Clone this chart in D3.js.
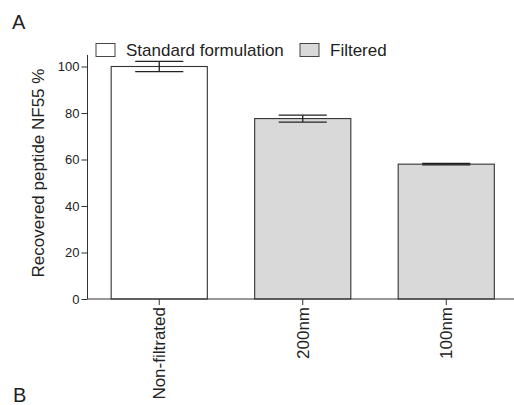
<!DOCTYPE html>
<html>
<head>
<style>
  body { margin: 0; background: #fff; }
  svg { font-family: "Liberation Sans", Arial, sans-serif; }
  .axis path, .axis line { stroke: #333; }
  .axis text { fill: #222; }
</style>
</head>
<body>
<svg width="514" height="405"></svg>
<script src="https://d3js.org/d3.v7.min.js"></script>
<script>
const categories = ["Non-filtrated", "200nm", "100nm"];
const values = [100, 77.6, 58.0];
const errors = [2.2, 1.5, 0.3];
const groups = ["Standard formulation", "Filtered", "Filtered"];
const legendLabels = ["Standard formulation", "Filtered"];
const yTicks = [0, 20, 40, 60, 80, 100];

const colors = { "Standard formulation": "#ffffff", "Filtered": "#d9d9d9" };
const data = categories.map((c, i) => ({ cat: c, v: values[i], e: errors[i], g: groups[i] }));

const svg = d3.select("svg");
const x0 = 87.5, y0 = 299;

const x = d3.scaleBand().domain(categories).range([x0, 518]).paddingInner(0.33).paddingOuter(0.165);
const y = d3.scaleLinear().domain([0, 100]).range([y0, 66.5]);

// bars
svg.selectAll("rect.bar").data(data).enter().append("rect")
  .attr("class", "bar")
  .attr("x", d => x(d.cat))
  .attr("y", d => y(d.v))
  .attr("width", x.bandwidth())
  .attr("height", d => y(0) - y(d.v))
  .attr("fill", d => colors[d.g])
  .attr("stroke", "#333")
  .attr("stroke-width", 1.1);

// error bars
const cap = x.bandwidth() / 4;
const eb = svg.selectAll("g.err").data(data).enter().append("g").attr("class", "err")
  .attr("stroke", "#222").attr("stroke-width", 1.3);
eb.append("line")
  .attr("x1", d => x(d.cat) + x.bandwidth() / 2).attr("x2", d => x(d.cat) + x.bandwidth() / 2)
  .attr("y1", d => y(d.v + d.e)).attr("y2", d => y(d.v - d.e));
eb.append("line")
  .attr("x1", d => x(d.cat) + x.bandwidth() / 2 - cap).attr("x2", d => x(d.cat) + x.bandwidth() / 2 + cap)
  .attr("y1", d => y(d.v + d.e)).attr("y2", d => y(d.v + d.e));
eb.append("line")
  .attr("x1", d => x(d.cat) + x.bandwidth() / 2 - cap).attr("x2", d => x(d.cat) + x.bandwidth() / 2 + cap)
  .attr("y1", d => y(d.v - d.e)).attr("y2", d => y(d.v - d.e));

// y axis
const yAxis = svg.append("g").attr("class", "axis")
  .attr("transform", `translate(${x0},0)`)
  .call(d3.axisLeft(y).tickValues(yTicks).tickSize(6).tickSizeOuter(0).tickPadding(2));
yAxis.select(".domain").attr("d", `M0,${y0}V55`);
yAxis.selectAll("text").style("font-size", "13px");

// x axis
const xAxis = svg.append("g").attr("class", "axis")
  .attr("transform", `translate(0,${y0})`)
  .call(d3.axisBottom(x).tickSize(6).tickSizeOuter(0));
xAxis.select(".domain").attr("d", `M${x0},0H514`);
xAxis.selectAll("text")
  .style("font-size", "17px")
  .attr("transform", "rotate(-90)")
  .attr("text-anchor", "end")
  .attr("x", -8).attr("y", 0).attr("dy", "0.35em");

// y label
svg.append("text")
  .attr("transform", "translate(44,173) rotate(-90)")
  .attr("text-anchor", "middle")
  .style("font-size", "17px")
  .attr("fill", "#222")
  .text("Recovered peptide NF55 %");

// legend
const legX = [96, 300];
legendLabels.forEach((l, i) => {
  svg.append("rect").attr("x", legX[i]).attr("y", 43.5).attr("width", 19).attr("height", 13)
    .attr("fill", colors[l]).attr("stroke", "#444").attr("stroke-width", 1);
  svg.append("text").attr("x", legX[i] + 30).attr("y", 56)
    .style("font-size", "17px").attr("fill", "#222").text(l);
});

// panel letters
svg.append("text").attr("x", 12).attr("y", 29).style("font-size", "20px").attr("fill", "#222").text("A");
svg.append("text").attr("x", 13).attr("y", 402).style("font-size", "20px").attr("fill", "#222").text("B");
</script>
</body>
</html>
